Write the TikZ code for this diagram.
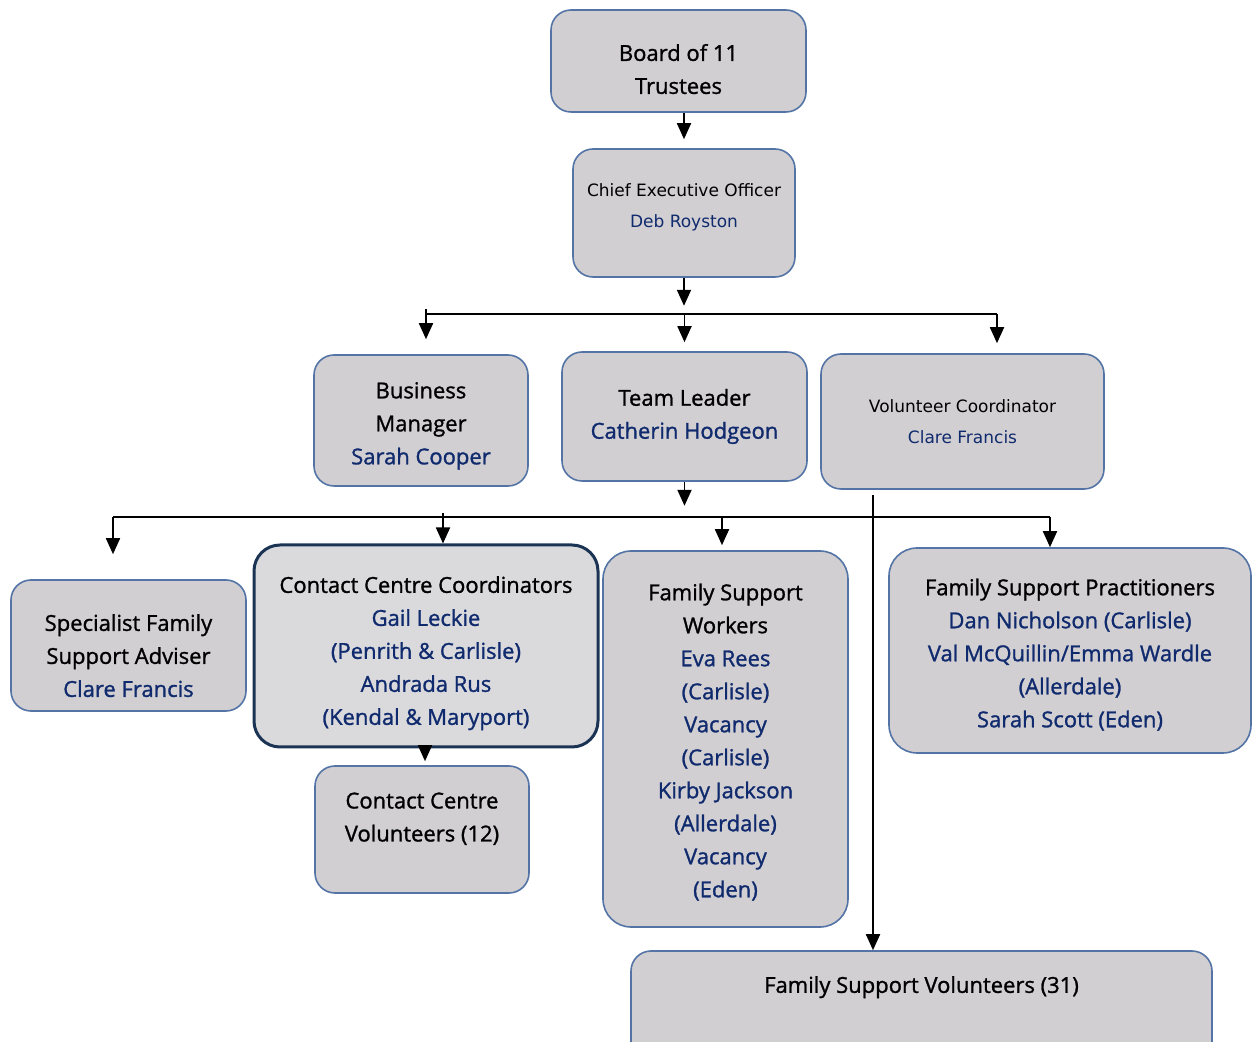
\documentclass[tikz,border=0pt]{standalone}
\usepackage{fontspec}
\setmainfont{Open Sans}[RawFeature={embolden=1.2}]
\newfontfamily\ceofont{DejaVu Sans}
\usetikzlibrary{arrows.meta}
\definecolor{boxfill}{RGB}{209,207,210}
\definecolor{boxline}{RGB}{84,116,166}
\definecolor{namecol}{RGB}{16,42,110}
\definecolor{cccline}{RGB}{28,52,84}
\definecolor{cccfill}{RGB}{218,218,221}
\newcommand{\nm}[1]{\textcolor{namecol}{#1}}
\newcommand{\dn}[1]{\rule{0pt}{\dimexpr 8.5pt+#1*2\relax}}
\begin{document}
\begin{tikzpicture}[x=0.5pt,y=-0.5pt,>={Triangle[width=7pt,length=8pt]},
	orgbox/.style={draw=boxline,line width=0.8pt,fill=boxfill,rounded corners=10pt,align=center,inner sep=2pt,font=\fontsize{11}{16.5}\selectfont},
	textup/.style={execute at end node={\rule[\dimexpr -2.5pt-#1*2\relax]{0pt}{\dimexpr 2.5pt+#1*2\relax}}},
	link/.style={->,line width=0.9pt}]
	\useasboundingbox (0,0) rectangle (1254,1042);
	% top of the chart
	\node[orgbox,minimum width=127.5pt,minimum height=51pt] (board) at (678.5,61) {\dn{4pt}Board of 11\\Trustees};
	\node[orgbox,textup=2.5pt,minimum width=111pt,minimum height=64pt,font=\ceofont\fontsize{8.5}{15.5}\selectfont] (ceo) at (684,213) {Chief Executive Officer\\\nm{Deb Royston}};
	\draw[link] (board.south -| ceo.north) -- ([yshift=4.5pt]ceo.north);
	% second row
	\node[orgbox,minimum width=107pt,minimum height=65.5pt] (bm) at (421,420.5) {\dn{2.5pt}Business\\Manager\\\nm{Sarah Cooper}};
	\node[orgbox,minimum width=122.5pt,minimum height=64.5pt] (tl) at (684.5,416.5) {Team Leader\\\nm{Catherin Hodgeon}};
	\node[orgbox,minimum width=141.5pt,minimum height=67.5pt,font=\ceofont\fontsize{8.5}{15.5}\selectfont] (vc) at (962.5,421.5) {Volunteer Coordinator\\\nm{Clare Francis}};
	\coordinate (barA) at (426,314);
	\coordinate (barB) at (997,314);
	\draw[link] (ceo.south) -- ++(0,28);
	\draw[line width=0.9pt] (barA) -- (barB);
	\draw[link] ([yshift=2.5pt]barA) -- ([yshift=7.5pt]bm.north -| barA);
	\draw[link] (barA -| tl.north) -- ([yshift=4.5pt]tl.north);
	\draw[link] (barB) -- ([yshift=5pt]vc.north -| barB);
	% third row
	\node[orgbox,minimum width=117.5pt,minimum height=65.5pt] (sfsa) at (128.5,645.5) {\dn{5pt}Specialist Family\\Support Adviser\\\nm{Clare Francis}};
	\node[orgbox,draw=cccline,line width=1.5pt,fill=cccfill,rounded corners=13pt,minimum width=172pt,minimum height=101pt] (ccc) at (426,646) {\dn{3.5pt}Contact Centre Coordinators\\\nm{Gail Leckie}\\\nm{(Penrith \& Carlisle)}\\\nm{Andrada Rus}\\\nm{(Kendal \& Maryport)}};
	\node[orgbox,rounded corners=14pt,minimum width=122.5pt,minimum height=188pt] (fsw) at (725.5,739) {\dn{1.5pt}Family Support\\Workers\\\nm{Eva Rees}\\\nm{(Carlisle)}\\\nm{Vacancy}\\\nm{(Carlisle)}\\\nm{Kirby Jackson}\\\nm{(Allerdale)}\\\nm{Vacancy}\\\nm{(Eden)}};
	\node[orgbox,rounded corners=14pt,minimum width=181pt,minimum height=102.5pt] (fsp) at (1070,650.5) {\dn{2pt}Family Support Practitioners\\\nm{Dan Nicholson (Carlisle)}\\\nm{Val McQuillin/Emma Wardle}\\\nm{(Allerdale)}\\\nm{Sarah Scott (Eden)}};
	\coordinate (barC) at (113,517);
	\coordinate (barD) at (1050,517);
	\draw[link] (tl.south) -- ++(0,24);
	\draw[line width=0.9pt] (barC) -- (barD);
	\draw[link] (barC) -- ([yshift=12.5pt]sfsa.north -| barC);
	\draw[link] ([yshift=2pt]barC -| 443,0) -- (ccc.north -| 443,0);
	\draw[link] (barC -| 722,0) -- ([yshift=2.5pt]fsw.north -| 722,0);
	\draw[link] (barD) -- (fsp.north -| barD);
	% bottom
	\node[orgbox,textup=5pt,minimum width=107pt,minimum height=63.5pt] (ccv) at (422,829.5) {Contact Centre\\Volunteers (12)};
	\draw[link] (ccc.south -| 425,0) -- ([yshift=2pt]ccv.north -| 425,0);
	\node[orgbox,textup=12pt,minimum width=290.5pt,minimum height=60pt] (fsv) at (921.5,1011) {Family Support Volunteers (31)};
	\coordinate (vcdrop) at (873,495);
	\draw[link] (vcdrop) -- (vcdrop |- fsv.north);
\end{tikzpicture}
\end{document}
